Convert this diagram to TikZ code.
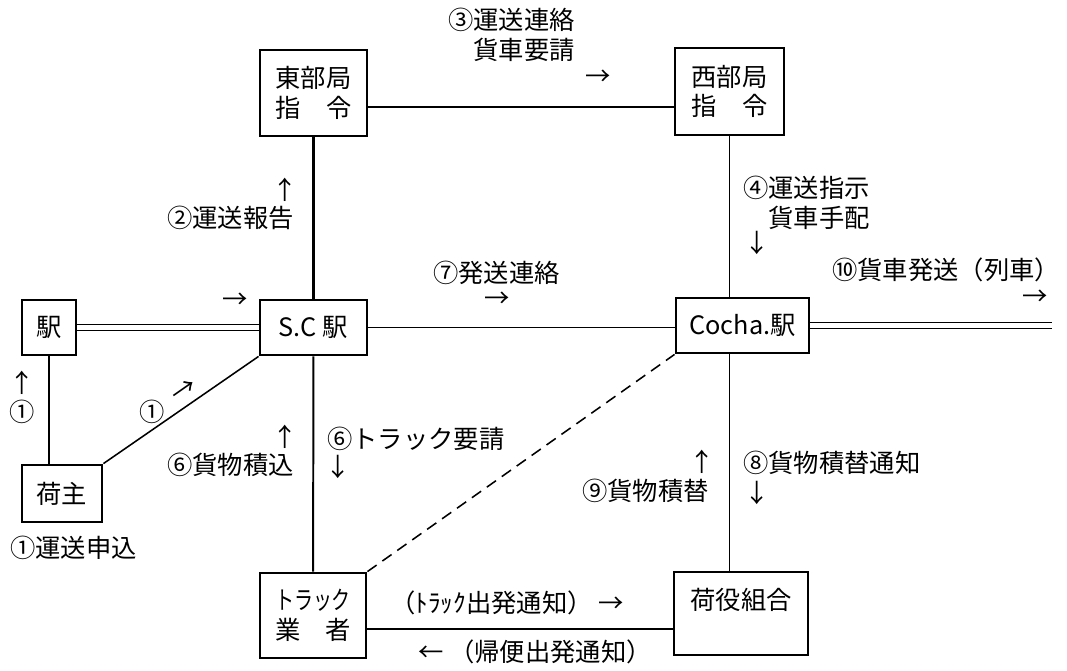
\documentclass[tikz,border=0pt]{standalone}
\usepackage{fontspec}
\usepackage{graphicx}
\setmainfont{Noto Sans CJK JP}
\newcommand{\zufont}{\fontsize{18}{21}\selectfont}
\tikzset{
	box/.style 2 args={draw,line width=2pt,minimum width=#1,minimum height=#2,inner sep=0pt,align=center,font=\zufont},
	lbl/.style={inner sep=0pt,align=left,font=\zufont},
	link/.style={line width=1.1pt},
	rail/.style={double,double distance=4pt,line width=0.7pt}
}
\begin{document}
\begin{tikzpicture}[x=0.025cm,y=-0.025cm]
	\useasboundingbox (0,0) rectangle (1067,671);
	\node [box={2.675cm}{2.15cm}] (east) at (313.5,93) {東部局\\指　令};
	\node [box={2.725cm}{2.175cm}] (west) at (729.5,91.5) {西部局\\指　令};
	\node [box={1.35cm}{1.375cm}] (eki) at (49,327.5) {駅};
	\node [box={2.675cm}{1.375cm}] (sc) at (313.5,327.5) {S.C 駅};
	\node [box={3.325cm}{1.375cm}] (cocha) at (742.5,325.5) {Cocha.駅};
	\node [box={2cm}{1.425cm}] (ninushi) at (62,493.5) {荷主};
	\node [box={2.65cm}{2.125cm}] (truck) at (313,615.5) {\scalebox{0.75}[1]{トラック}\\業　者};
	\node [box={3.35cm}{2.075cm}] (niyaku) at (741,613.5) {荷役組合\\\mbox{}};
	\coordinate (railend) at (1052,325.5);

	\draw [link] ([yshift=-10pt]east.east) -- ([yshift=-10pt]east.east -| west.west);
	\draw [link,line width=1.8pt] (east) -- (sc);
	\draw [link] (west.south) -- (west.south |- cocha.north);
	\draw [rail] (eki) -- (sc);
	\draw [link] (sc.east) -- (sc.east -| cocha.west);
	\draw [rail] (cocha.east) -- (railend);
	\draw [link] (eki.south) -- (eki.south |- ninushi.north);
	\draw [link] (ninushi.north east) -- (sc.south west);
	\draw [link,line width=1.4pt] (sc) -- (truck);
	\draw [link,dash pattern=on 8pt off 5pt] (truck.north east) -- (cocha.south west);
	\draw [link,line width=1.4pt] (west.south |- cocha.south) -- (west.south |- niyaku.north);
	\draw [link] ([yshift=-9.6pt]truck.east) -- ([yshift=-9.6pt]truck.east -| niyaku.west);

	\node [lbl,anchor=north west] (t3) at (448,8) {③運送連絡\\　貨車要請};
	\node [lbl] (a3) at (598,78) {→};
	\node [lbl,anchor=west] (t2) at (167,218) {②運送報告};
	\node [lbl] (a2) at (285,190) {↑};
	\node [lbl] (a1) at (235,301) {→};
	\node [lbl,anchor=west] (t7) at (433,273) {⑦発送連絡};
	\node [lbl] (a7) at (497,300) {→};
	\node [lbl,anchor=north west] (t4) at (743,176) {④運送指示\\　貨車手配};
	\node [lbl] (a4) at (757,243) {↓};
	\node [lbl,anchor=west] (t10) at (832,270) {⑩貨車発送（列車）};
	\node [lbl] (a10) at (1035,298) {→};
	\node [lbl] (a1b) at (22,383) {↑};
	\node [lbl] (n1b) at (22,412) {①};
	\node [lbl] (n1c) at (152,412) {①};
	\node [lbl,rotate=35] (a1c) at (184,391) {→};
	\node [lbl] (a6) at (285,437) {↑};
	\node [lbl,anchor=west] (t6) at (167,465) {⑥貨物積込};
	\node [lbl,anchor=west] (t6b) at (327,439) {⑥トラック要請};
	\node [lbl] (a6b) at (338,467) {↓};
	\node [lbl,anchor=west] (t1) at (10,548) {①運送申込};
	\node [lbl,anchor=west] (t11) at (390,603) {（ﾄﾗｯｸ出発通知） →};
	\node [lbl,anchor=west] (t12) at (418,652) {← （帰便出発通知）};
	\node [lbl] (a9) at (702,462) {↑};
	\node [lbl,anchor=west] (t9) at (582,491) {⑨貨物積替};
	\node [lbl,anchor=west] (t8) at (743,463) {⑧貨物積替通知};
	\node [lbl] (a8) at (757,493) {↓};
\end{tikzpicture}
\end{document}
